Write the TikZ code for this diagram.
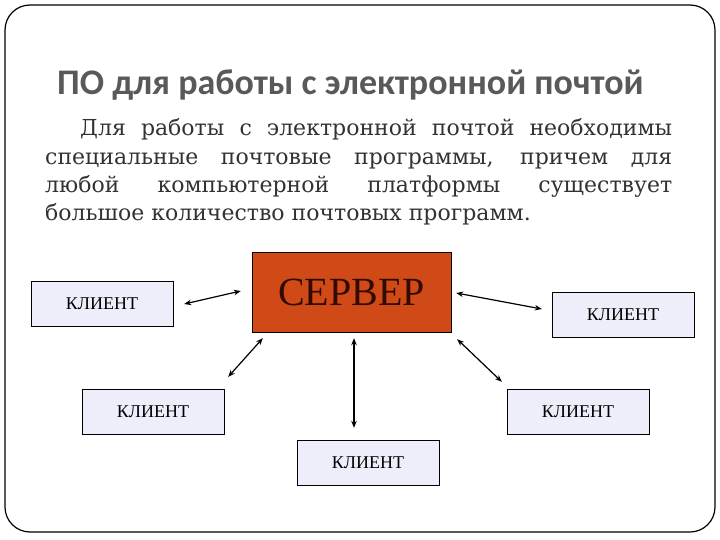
\documentclass[tikz,border=0pt]{standalone}
\usepackage{fontspec}
\setmainfont{Liberation Serif}
\newfontfamily\titlefont{Carlito}
\newfontfamily\bodyfont{DejaVu Serif}
\usepackage{tikz}
\usetikzlibrary{calc, positioning}
\usetikzlibrary{arrows.meta}
\definecolor{servercol}{RGB}{208,74,24}
\definecolor{clientcol}{RGB}{238,238,250}
\definecolor{titlecol}{RGB}{89,89,89}
\definecolor{bodycol}{RGB}{50,50,50}
\tikzset{
  % Set arrowhead
  >={Stealth[length=7pt, width=5.5pt]},
  % Server box
  srvnode/.style={draw, fill=servercol, shape=rectangle, minimum width=199pt,
    minimum height=80pt, inner sep=0pt, font=\fontsize{40}{40}\selectfont,
    text={rgb,255:red,50;green,10;blue,0}},
  % Client box
  cnode/.style={draw, fill=clientcol, shape=rectangle, minimum width=142pt,
    minimum height=45pt, inner sep=0pt, font=\fontsize{18}{18}\selectfont},
  % Double arrows
  q<->/.style={<->, line width=1.2pt},
}
\begin{document}
\begin{tikzpicture}[x=1pt, y=-1pt]

    \useasboundingbox (0,0) rectangle (720,540);

    % slide frame
    \draw[line width=1.2pt, rounded corners=25pt] (5,5) rectangle (715,532);

    \node[anchor=base west, inner sep=0pt, text=titlecol,
      font=\titlefont\bfseries\fontsize{36}{36}\selectfont] (title) at (57,95)
      {ПО для работы с электронной почтой};

    \node[anchor=base west, inner sep=0pt, text width=627pt, align=justify,
      text=bodycol, font=\bodyfont\fontsize{22}{28.3}\selectfont] (body)
      at (45,136)
      {\hspace*{35pt}Для работы с электронной почтой необходимы\linebreak
       специальные почтовые программы, причем для\linebreak
       любой компьютерной платформы существует\linebreak
       большое количество почтовых программ.};

    \node[srvnode] (srv) at (351.5,292) {СЕРВЕР};

    \node[cnode] (k1) at (102,304) {КЛИЕНТ};
    \node[cnode] (k2) at (623,315) {КЛИЕНТ};
    \node[cnode] (k3) at (153,411.5) {КЛИЕНТ};
    \node[cnode] (k4) at (578,411.5) {КЛИЕНТ};
    \node[cnode] (k5) at (368,462.5) {КЛИЕНТ};

    \draw[q<->] ([xshift=11pt]k1.east) -- ([shift={(-11,-1)}]srv.west);
    \draw[q<->] ([shift={(5,1)}]srv.east) -- ([shift={(-10,-6)}]k2.west);
    \draw[q<->] ([shift={(11,6)}]srv.south west) -- ([shift={(4,-12)}]k3.north east);
    \draw[q<->] ([shift={(2.5,6)}]srv.south) -- ([shift={(-14,-12)}]k5.north);
    \draw[q<->] ([shift={(6,7)}]srv.south east) -- ([shift={(-5,-7)}]k4.north west);
  \end{tikzpicture}
\end{document}
